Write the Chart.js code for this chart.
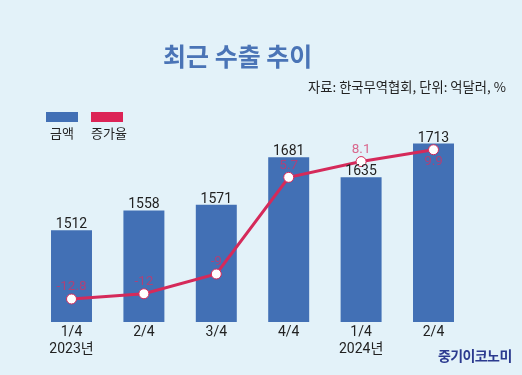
<!DOCTYPE html>
<html><head><meta charset="utf-8">
<script src="https://cdn.jsdelivr.net/npm/chart.js@4/dist/chart.umd.min.js"></script>
<style>
html,body{margin:0;padding:0;background:#e3f2f9;}
#wrap{position:relative;width:522px;height:375px;overflow:hidden;background:#e3f2f9;font-family:"Noto Sans CJK KR","Noto Sans",sans-serif;}
#c{position:absolute;left:0;top:0;}
.t{position:absolute;white-space:nowrap;line-height:1;}
</style></head><body>
<div id="wrap">
<canvas id="c" width="522" height="375"></canvas>
<div class="t" style="left:163px;top:43px;font-size:25px;font-weight:700;color:#4a74b6;">최근 수출 추이</div>
<div class="t" style="left:308px;top:80px;font-size:13.3px;color:#222;">자료: 한국무역협회, 단위: 억달러, %</div>
<div class="t" style="left:46px;top:112px;width:32px;height:10px;background:#4270b5;"></div>
<div class="t" style="left:91px;top:112px;width:32px;height:10px;background:#dc2456;"></div>
<div class="t" style="left:50px;top:126px;font-size:13px;color:#222;">금액</div>
<div class="t" style="left:91px;top:126px;font-size:13px;color:#222;">증가율</div>
<div class="t" style="left:438px;top:348px;font-size:14px;font-weight:700;color:#2b3a8f;letter-spacing:-0.6px;">중기이코노미</div>
</div>
<script>
const quarters = ['1/4','2/4','3/4','4/4','1/4','2/4'];
const years = ['2023년','','','','2024년',''];
const amounts = [1512,1558,1571,1681,1635,1713];
const growth = [-12.8,-12,-9,5.7,8.1,9.9];
const growthLabelBelow = [false,false,false,false,false,true];

const labels = quarters.map((q,i)=> years[i] ? [q, years[i]] : q);

const valuePlugin = {
  id:'values',
  afterDatasetsDraw(chart){
    const ctx = chart.ctx;
    ctx.save();
    const barMeta = chart.getDatasetMeta(0);
    ctx.font = '14px Roboto, "Noto Sans CJK KR", sans-serif';
    ctx.fillStyle = '#222';
    ctx.textAlign = 'center';
    ctx.textBaseline = 'alphabetic';
    barMeta.data.forEach((el,i)=>{
      ctx.fillText(String(amounts[i]), el.x, el.y - 2);
    });
    const lineMeta = chart.getDatasetMeta(1);
    ctx.font = '13.5px Roboto, "Noto Sans CJK KR", sans-serif';
    ctx.fillStyle = 'rgba(214,48,98,0.72)';
    ctx.textBaseline = 'middle';
    lineMeta.data.forEach((el,i)=>{
      const dy = growthLabelBelow[i] ? 12 : -12;
      ctx.fillText(String(growth[i]), el.x, el.y + dy);
    });
    ctx.restore();
  }
};

new Chart(document.getElementById('c'), {
  data:{
    labels: labels,
    datasets:[
      {type:'bar', data: amounts, backgroundColor:'#4270b5', yAxisID:'yb',
       barPercentage:0.566, categoryPercentage:1, order:2},
      {type:'line', data: growth, yAxisID:'yl', borderColor:'#d52a5a', borderWidth:3,
       pointRadius:5, pointBackgroundColor:'#ffffff', pointBorderColor:'#d52a5a', pointBorderWidth:1,
       tension:0, order:1}
    ]
  },
  options:{
    responsive:false, animation:false,
    layout:{padding:{left:35.3, right:52.3, top:130, bottom:0}},
    plugins:{legend:{display:false}, tooltip:{enabled:false}, title:{display:false}},
    scales:{
      x:{offset:true, grid:{display:false, drawTicks:false}, border:{display:false},
         ticks:{color:'#222', padding:2, font:{family:'Roboto, "Noto Sans CJK KR", sans-serif', size:14}, maxRotation:0, autoSkip:false},
         afterFit(axis){ axis.height = 53; }},
      yb:{display:false, min:1299, max:1744.5},
      yl:{display:false, min:-16.3, max:12.9}
    }
  },
  plugins:[valuePlugin]
});
</script>
</body></html>
